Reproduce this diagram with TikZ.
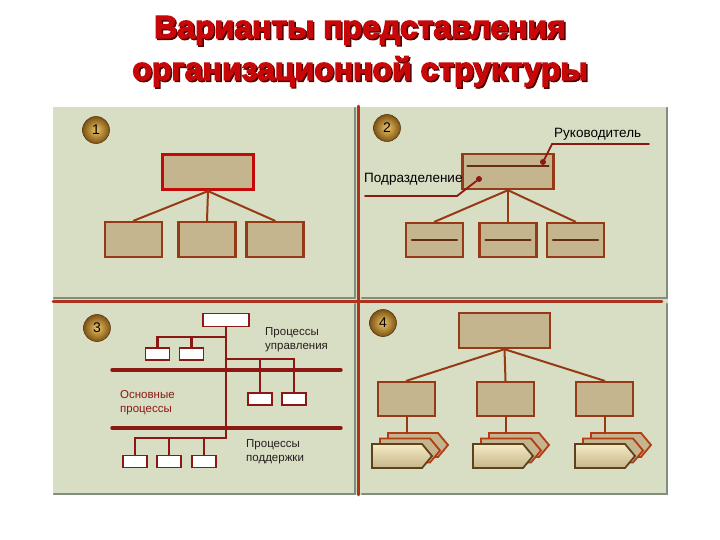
\documentclass[tikz,border=0pt]{standalone}
\usepackage{fontspec}
\setmainfont{Liberation Sans}
\newfontfamily\titlefont{Liberation Sans Bold}[FakeBold=4]
\usetikzlibrary{calc}

\definecolor{panelbg}{RGB}{215,222,195}
\definecolor{panelsh}{RGB}{128,142,128}
\definecolor{boxfill}{RGB}{196,181,142}
\definecolor{boxline}{RGB}{150,58,22}
\definecolor{headred}{RGB}{196,10,10}
\definecolor{procred}{RGB}{140,24,20}
\definecolor{divred}{RGB}{172,52,30}
\definecolor{ballin}{RGB}{236,196,100}
\definecolor{ballout}{RGB}{125,82,20}
\definecolor{titlered}{RGB}{200,8,8}
\definecolor{titlesh}{RGB}{80,0,0}

\tikzset{
  unitbox/.style={draw=boxline,fill=boxfill,line width=2.4pt,minimum width=57pt,minimum height=34pt,inner sep=0pt},
  headbox/.style={unitbox,minimum width=91pt,minimum height=35pt},
  redhead/.style={headbox,draw=headred,line width=3.2pt},
  link/.style={boxline,line width=2pt},
  innerline/.style={draw={rgb,255:red,100;green,45;blue,20},line width=1.8pt},
  leader/.style={procred,line width=1.8pt},
  leaddot/.style={circle,fill=procred,inner sep=0pt,minimum size=6pt},
  procbox/.style={draw=procred,fill=white,line width=1.8pt,minimum width=24pt,minimum height=12pt,inner sep=0pt},
  proclink/.style={procred,line width=2.2pt},
  level/.style={procred,line width=3.4pt},
  numball/.style={circle,draw={rgb,255:red,90;green,60;blue,15},line width=0.6pt,inner color=ballin,outer color=ballout,minimum size=27pt,inner sep=0pt,font=\fontsize{14}{14}\selectfont},
  lbl/.style={font=\fontsize{13.5}{16}\selectfont,inner sep=0pt},
  smalllbl/.style={font=\fontsize{11.5}{14}\selectfont,align=left,inner sep=0pt},
  titletext/.style={font=\titlefont\fontsize{32}{32}\selectfont,inner sep=0pt,anchor=base},
  folder/.pic={
    \foreach \dx/\dy in {16/-11,8/-5.5}
      \draw[draw={rgb,255:red,180;green,60;blue,20},fill=boxfill,line width=1.8pt]
        (\dx,\dy) -- ++(50,0) -- ++(10,12) -- ++(-10,12) -- ++(-50,0) -- cycle;
    \draw[draw={rgb,255:red,95;green,65;blue,30},line width=1.8pt,
      top color={rgb,255:red,244;green,234;blue,196},bottom color={rgb,255:red,198;green,182;blue,138}]
      (0,0) -- (50,0) -- (60,12) -- (50,24) -- (0,24) -- cycle;
  }
}

\begin{document}
\begin{tikzpicture}[x=1pt,y=-1pt,line cap=round]
\useasboundingbox (0,0) rectangle (720,540);

% title
\node[titletext,titlesh] (t1s) at (361.5,39.5) {Варианты представления};
\node[titletext,titlered] (t1) at (360,38) {Варианты представления};
\node[titletext,titlesh] (t2s) at (361.5,81.5) {организационной структуры};
\node[titletext,titlered] (t2) at (360,80) {организационной структуры};

% panels
\fill[panelbg] (53,107) rectangle (668,495);
\draw[panelsh,line width=2.5pt] (355,108) -- (355,298) -- (54,298);
\draw[panelsh,line width=2.5pt] (667,108) -- (667,298) -- (362,298);
\draw[panelsh,line width=2.5pt] (355,304) -- (355,494) -- (54,494);
\draw[panelsh,line width=2.5pt] (667,304) -- (667,494) -- (362,494);
\draw[divred,line width=2.8pt] (358.5,106) -- (358.5,495);
\draw[divred,line width=2.8pt] (53,301.5) -- (662,301.5);

% 1
\node[numball] (n1) at (96,130) {1};
\node[redhead] (h1) at (208,172) {};
\node[unitbox,minimum height=35pt] (u1a) at (133.5,239.5) {};
\node[unitbox,minimum height=35pt] (u1b) at (207,239.5) {};
\node[unitbox,minimum height=35pt] (u1c) at (275,239.5) {};
\foreach \b in {u1a,u1b,u1c}
  \draw[link] (h1.south) -- (\b.north);

% 2
\node[numball] (n2) at (387,128) {2};
\node[headbox] (h2) at (508,171.5) {};
\draw[innerline] ([shift={(6,-5.5)}]h2.west) -- ([shift={(-6,-5.5)}]h2.east);
\node[unitbox] (u2a) at (434.5,240) {};
\node[unitbox] (u2b) at (508,240) {};
\node[unitbox] (u2c) at (575.5,240) {};
\foreach \b in {u2a,u2b,u2c} {
  \draw[link] (h2.south) -- (\b.north);
  \draw[innerline] ([xshift=7pt]\b.west) -- ([xshift=-7pt]\b.east);
}
\node[lbl,anchor=base west] (ruk) at (554,138) {Руководитель};
\node[leaddot] (rkdot) at (543,162) {};
\coordinate (rkend) at (649,144);
\draw[leader] (rkend) -- (552,144) -- (rkdot);
\node[lbl,anchor=base west] (pod) at (364,183) {Подразделение};
\node[leaddot] (pddot) at (479,179) {};
\coordinate (pdend) at (365,196);
\draw[leader] (pdend) -- (457,196) -- (pddot);

% 3
\node[numball] (n3) at (97,328) {3};
\node[procbox,minimum width=46pt,minimum height=13pt] (t3) at (226,320) {};
\coordinate (j3a) at (226,337);
\coordinate (j3b) at (226,359);
\coordinate (j3c) at (226,438);
\node[procbox] (p3a) at (157.5,354) {};
\node[procbox] (p3b) at (191.5,354) {};
\node[procbox] (p3c) at (260,399) {};
\node[procbox] (p3d) at (294,399) {};
\node[procbox] (p3e) at (135,461.5) {};
\node[procbox] (p3f) at (169,461.5) {};
\node[procbox] (p3g) at (204,461.5) {};
\draw[proclink] (t3.south) -- (j3c);
\draw[proclink] (j3a) -| (p3a.north);
\draw[proclink] (j3a -| p3b.north) -- (p3b.north);
\draw[proclink] (j3b) -| (p3d.north);
\draw[proclink] (j3b -| p3c.north) -- (p3c.north);
\draw[proclink] (j3c) -| (p3e.north);
\draw[proclink] (j3c -| p3f.north) -- (p3f.north);
\draw[proclink] (j3c -| p3g.north) -- (p3g.north);
\draw[level] (112,370) -- (341,370);
\draw[level] (112,428) -- (341,428);
\node[smalllbl,anchor=base west,text={rgb,255:red,40;green,30;blue,30}] (pu) at (265,349) {Процессы\\управления};
\node[smalllbl,anchor=base west,text=procred] (po) at (120,412) {Основные\\процессы};
\node[smalllbl,anchor=base west,text={rgb,255:red,40;green,30;blue,30}] (pp) at (246,461) {Процессы\\поддержки};

% 4
\node[numball] (n4) at (383,323) {4};
\node[headbox] (h4) at (504.5,330.5) {};
\node[unitbox] (m4a) at (406.5,399) {};
\node[unitbox] (m4b) at (505.5,399) {};
\node[unitbox] (m4c) at (604.5,399) {};
\pic at (372,444) {folder};
\pic at (473,444) {folder};
\pic at (575,444) {folder};
\coordinate (s4a) at (406.5,433);
\coordinate (s4b) at (505.5,433);
\coordinate (s4c) at (604.5,433);
\foreach \b/\s in {m4a/s4a,m4b/s4b,m4c/s4c} {
  \draw[link] (h4.south) -- (\b.north);
  \draw[link] (\b.south) -- (\s);
}
\end{tikzpicture}
\end{document}
